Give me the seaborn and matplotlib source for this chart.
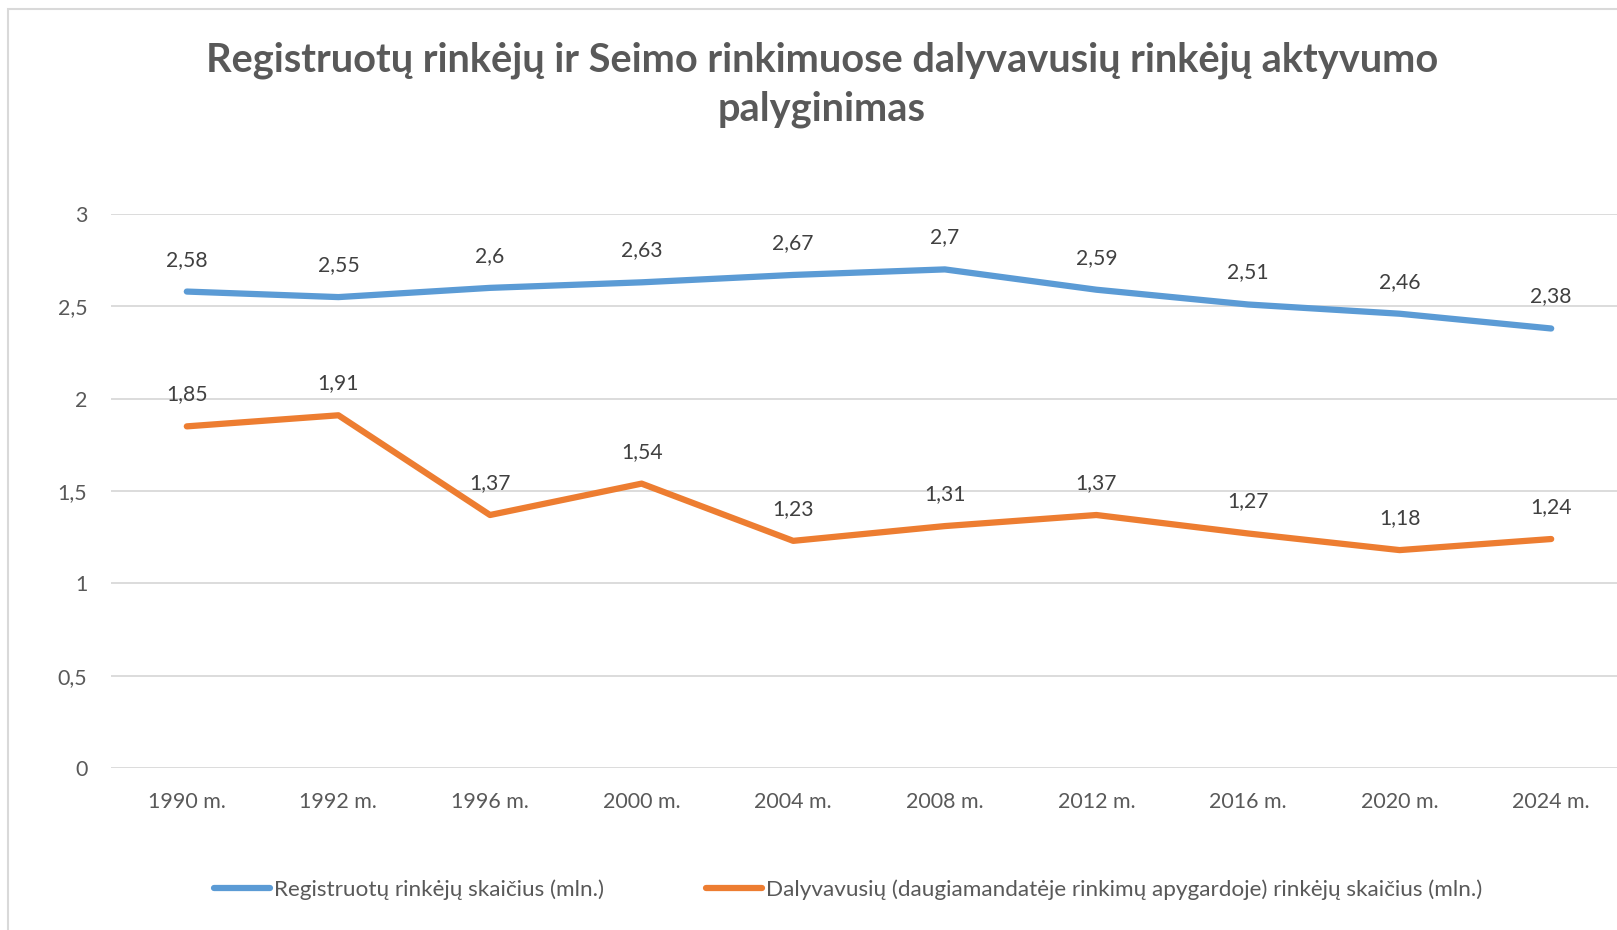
import pandas as pd
import matplotlib
matplotlib.use("Agg")
import matplotlib.pyplot as plt
import seaborn as sns
from matplotlib.patches import Rectangle

# === DATA ===
years = ["1990 m.", "1992 m.", "1996 m.", "2000 m.", "2004 m.",
         "2008 m.", "2012 m.", "2016 m.", "2020 m.", "2024 m."]
registered = [2.58, 2.55, 2.6, 2.63, 2.67, 2.7, 2.59, 2.51, 2.46, 2.38]
voted = [1.85, 1.91, 1.37, 1.54, 1.23, 1.31, 1.37, 1.27, 1.18, 1.24]

series_names = ["Registruotų rinkėjų skaičius (mln.)",
                "Dalyvavusių (daugiamandatėje rinkimų apygardoje) rinkėjų skaičius (mln.)"]
colors = ["#5B9BD5", "#ED7D31"]
y_ticks = [0, 0.5, 1, 1.5, 2, 2.5, 3]

title = "Registruotų rinkėjų ir Seimo rinkimuose dalyvavusių rinkėjų aktyvumo\npalyginimas"


def fmt(v):
    # Lithuanian decimal comma
    return f"{v:g}".replace(".", ",")


def build_frame():
    df = pd.DataFrame({"year": years * 2,
                       "value": registered + voted,
                       "series": [series_names[0]] * len(years) + [series_names[1]] * len(years)})
    return df


def draw(df):
    sns.set_style("white")
    plt.rcParams['font.family'] = ['Lato', 'DejaVu Sans']

    fig = plt.figure(figsize=(16.17, 9.30), dpi=100)
    ax = fig.add_axes([111 / 1617, 1 - 768 / 930, 1516 / 1617, (768 - 214) / 930])

    # light chart-area border (open on the right and bottom)
    fig.patches.append(Rectangle((8 / 1617, -0.1), 1.2, 1 - 9 / 930 + 0.1,
                                 transform=fig.transFigure, fill=False,
                                 edgecolor="#D9D9D9", linewidth=1.5))

    sns.lineplot(data=df, x="year", y="value", hue="series", palette=colors,
                 sort=False, linewidth=4.5, ax=ax, legend=False,
                 solid_capstyle="round", solid_joinstyle="round")

    ax.set_xlim(-0.5, len(years) - 0.5)
    ax.set_ylim(0, 3)
    ax.set_yticks(y_ticks)
    ax.set_yticklabels([fmt(t) for t in y_ticks])
    ax.grid(axis="y", color="#D9D9D9", linewidth=1.3)
    ax.set_axisbelow(True)
    for s in ax.spines.values():
        s.set_visible(False)
    ax.tick_params(axis="both", length=0, labelsize=15.4, colors="#595959")
    ax.tick_params(axis="x", pad=17)
    ax.tick_params(axis="y", pad=17)
    ax.set_xlabel("")
    ax.set_ylabel("")

    # data labels above points
    for vals in (registered, voted):
        for i, v in enumerate(vals):
            ax.annotate(fmt(v), (i, v), xytext=(0, 23), textcoords="offset points",
                        ha="center", va="center", fontsize=15.2, color="#404040")

    fig.text(822 / 1617, 1 - 84.5 / 930, title, ha="center", va="center",
             fontsize=28.6, fontweight="bold", color="#595959", linespacing=1.38)

    handles = [plt.Line2D([], [], color=c, linewidth=4.5, solid_capstyle="round") for c in colors]
    fig.legend(handles, series_names, loc="center", ncol=2,
               bbox_to_anchor=(848 / 1617, 1 - 890 / 930), frameon=False,
               fontsize=16.2, labelcolor="#595959", handlelength=2.5,
               handletextpad=0.2, columnspacing=4.5)

    fig.savefig("out.png", dpi=100)


if __name__ == "__main__":
    draw(build_frame())
